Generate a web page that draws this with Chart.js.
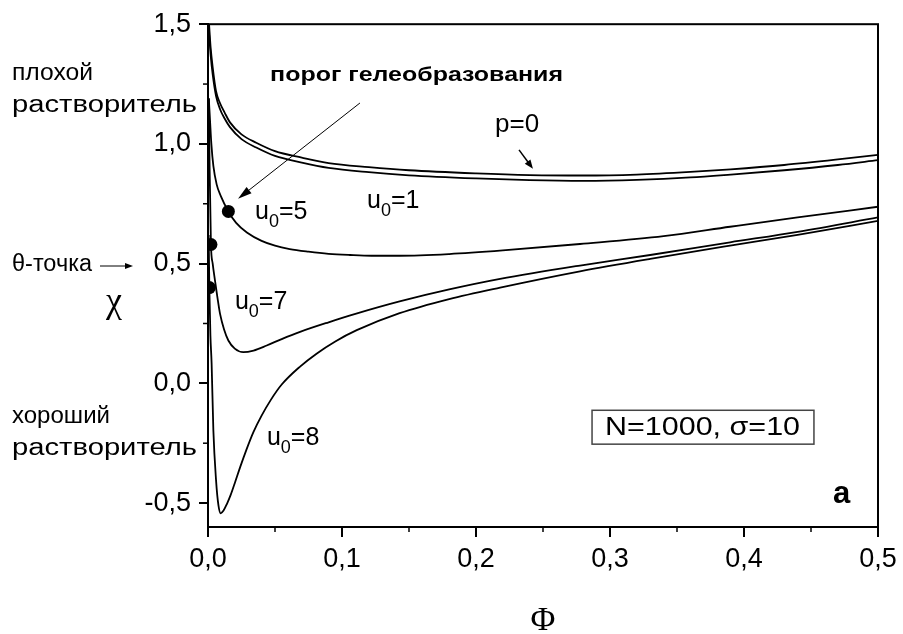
<!DOCTYPE html>
<html>
<head>
<meta charset="utf-8">
<script src="https://cdn.jsdelivr.net/npm/chart.js@4.4.0/dist/chart.umd.min.js"></script>
<style>
  html, body { margin: 0; padding: 0; background: #fff; }
  #wrap { width: 903px; height: 634px; }
</style>
</head>
<body>
<div id="wrap"><canvas id="chart" width="903" height="634"></canvas></div>
<script>
// axis ticks
const xTicks = [0, 0.1, 0.2, 0.3, 0.4, 0.5];
const xMinorTicks = [0.05, 0.15, 0.25, 0.35, 0.45];
const yTicks = [-0.5, 0, 0.5, 1.0, 1.5];
const yMinorTicks = [-0.25, 0.25, 0.75, 1.25];

// p=0
const phiP0 = [0.0008, 0.002, 0.0035, 0.006, 0.009, 0.0125, 0.0164, 0.025, 0.036, 0.05, 0.07, 0.09, 0.12, 0.15, 0.2, 0.24, 0.28, 0.32, 0.36, 0.39, 0.43, 0.47, 0.5];
const chiP0 = [1.5, 1.40, 1.32, 1.22, 1.17, 1.13, 1.09, 1.04, 1.005, 0.97, 0.943, 0.92, 0.903, 0.89, 0.877, 0.870, 0.868, 0.872, 0.883, 0.894, 0.912, 0.935, 0.954];

// u0=1
const phiU1 = [0.0008, 0.002, 0.0035, 0.006, 0.009, 0.0125, 0.0164, 0.025, 0.036, 0.05, 0.07, 0.09, 0.12, 0.15, 0.2, 0.24, 0.28, 0.32, 0.36, 0.39, 0.43, 0.47, 0.5];
const chiU1 = [1.46, 1.37, 1.29, 1.20, 1.145, 1.105, 1.07, 1.02, 0.985, 0.95, 0.922, 0.90, 0.882, 0.869, 0.856, 0.849, 0.846, 0.85, 0.86, 0.872, 0.89, 0.912, 0.932];

// u0=5
const phiU5 = [0.0006, 0.0015, 0.0025, 0.004, 0.0065, 0.0095, 0.0152, 0.021, 0.029, 0.04, 0.05, 0.061, 0.075, 0.09, 0.106, 0.122, 0.143, 0.18, 0.22, 0.2776, 0.34, 0.3896, 0.44, 0.5];
const chiU5 = [1.19, 1.10, 1.0, 0.908, 0.83, 0.783, 0.718, 0.67, 0.63, 0.595, 0.575, 0.561, 0.55, 0.541, 0.536, 0.533, 0.533, 0.54, 0.555, 0.582, 0.615, 0.654, 0.693, 0.7375];

// u0=7
const phiU7 = [0.0006, 0.0012, 0.0022, 0.0035, 0.0052, 0.007, 0.009, 0.012, 0.0152, 0.02, 0.0264, 0.034, 0.0438, 0.055, 0.0687, 0.09, 0.11, 0.143, 0.18, 0.218, 0.2776, 0.33, 0.3896, 0.44, 0.5];
const chiU7 = [1.19, 0.90, 0.58, 0.50, 0.43, 0.36, 0.29, 0.225, 0.179, 0.145, 0.13, 0.137, 0.158, 0.185, 0.215, 0.255, 0.29, 0.342, 0.392, 0.436, 0.492, 0.536, 0.589, 0.633, 0.693];

// u0=8
const phiU8 = [0.0005, 0.001, 0.0018, 0.0027, 0.004, 0.006, 0.0078, 0.0095, 0.0115, 0.014, 0.017, 0.0201, 0.024, 0.0285, 0.0338, 0.04, 0.047, 0.055, 0.0687, 0.081, 0.095, 0.111, 0.143, 0.18, 0.218, 0.2776, 0.33, 0.3896, 0.44, 0.5];
const chiU8 = [0.62, 0.40, 0.2, 0.083, -0.196, -0.404, -0.51, -0.543, -0.532, -0.505, -0.465, -0.415, -0.35, -0.28, -0.205, -0.135, -0.068, -0.005, 0.07, 0.124, 0.175, 0.222, 0.293, 0.352, 0.40, 0.468, 0.52, 0.575, 0.62, 0.679];

// gelation threshold points (u0=5, u0=7, u0=8)
const dotPhi = [0.0152, 0.0022, 0.001];
const dotChi = [0.718, 0.58, 0.40];

const SANS = '"Liberation Sans", Arial, Helvetica, sans-serif';
const SERIF = '"Liberation Serif", "Times New Roman", serif';

function pts(xs, ys) {
    return xs.map((x, i) => ({ x: x, y: ys[i] }));
}

function curve(label, xs, ys) {
    return {
        label: label,
        data: pts(xs, ys),
        showLine: true,
        borderColor: '#000',
        borderWidth: 1.8,
        pointRadius: 0,
        cubicInterpolationMode: 'monotone',
        fill: false
    };
}

function arrow(ctx, x1, y1, x2, y2, headLen, headW, lw) {
    const a = Math.atan2(y2 - y1, x2 - x1);
    ctx.lineWidth = lw;
    ctx.beginPath();
    ctx.moveTo(x1, y1);
    ctx.lineTo(x2 - Math.cos(a) * headLen * 0.8, y2 - Math.sin(a) * headLen * 0.8);
    ctx.stroke();
    ctx.beginPath();
    ctx.moveTo(x2, y2);
    ctx.lineTo(x2 - Math.cos(a) * headLen + Math.sin(a) * headW, y2 - Math.sin(a) * headLen - Math.cos(a) * headW);
    ctx.lineTo(x2 - Math.cos(a) * headLen - Math.sin(a) * headW, y2 - Math.sin(a) * headLen + Math.cos(a) * headW);
    ctx.closePath();
    ctx.fill();
}

// text stretched horizontally to the width it has in the picture
function fitText(ctx, text, x, y, width) {
    const sx = width / ctx.measureText(text).width;
    ctx.save();
    ctx.translate(x, y);
    ctx.scale(sx, 1);
    ctx.fillText(text, 0, 0);
    ctx.restore();
}

function subLabel(ctx, x, y, sub, rest) {
    ctx.font = `25px ${SANS}`;
    ctx.fillText('u', x, y);
    let w = ctx.measureText('u').width;
    ctx.font = `18px ${SANS}`;
    ctx.fillText(sub, x + w, y + 8);
    w += ctx.measureText(sub).width;
    ctx.font = `25px ${SANS}`;
    ctx.fillText(rest, x + w, y);
}

const decor = {
    id: 'decor',
    afterDraw(chart) {
        const ctx = chart.ctx;
        const a = chart.chartArea;
        const xs = chart.scales.x;
        const ys = chart.scales.y;
        const px = v => xs.getPixelForValue(v);
        const py = v => ys.getPixelForValue(v);

        ctx.save();
        ctx.strokeStyle = '#000';
        ctx.fillStyle = '#000';

        // frame
        ctx.lineWidth = 2;
        ctx.strokeRect(a.left, a.top, a.right - a.left, a.bottom - a.top);

        // minor ticks
        ctx.lineWidth = 1.5;
        xMinorTicks.forEach(v => {
            ctx.beginPath();
            ctx.moveTo(px(v), a.bottom);
            ctx.lineTo(px(v), a.bottom + 5);
            ctx.stroke();
        });
        yMinorTicks.forEach(v => {
            ctx.beginPath();
            ctx.moveTo(a.left, py(v));
            ctx.lineTo(a.left - 5, py(v));
            ctx.stroke();
        });

        // axis titles
        ctx.textAlign = 'center';
        ctx.textBaseline = 'alphabetic';
        ctx.font = `34px ${SERIF}`;
        ctx.fillText('Φ', (a.left + a.right) / 2, 630);
        ctx.font = `36px ${SERIF}`;
        ctx.fillText('χ', 114, 312);

        // left side notes
        ctx.textAlign = 'left';
        ctx.font = `23px ${SANS}`;
        fitText(ctx, 'плохой', 12, 80, 81);
        fitText(ctx, 'растворитель', 12, 112, 185);
        fitText(ctx, 'θ-точка', 12, 271, 80);
        fitText(ctx, 'хороший', 12, 423, 98);
        fitText(ctx, 'растворитель', 12, 455, 185);
        arrow(ctx, 100, 266, 133, 266, 8, 3, 1);

        // gelation threshold
        ctx.font = `bold 21px ${SANS}`;
        fitText(ctx, 'порог гелеобразования', px(0.0463), py(1.2625), 293);
        arrow(ctx, px(0.1134), py(1.171), px(0.0224), py(0.771), 14, 4, 1);

        // p=0
        ctx.font = `26px ${SANS}`;
        ctx.fillText('p=0', px(0.2142), py(1.05));
        arrow(ctx, px(0.2321), py(0.975), px(0.2425), py(0.896), 9, 3.5, 1.5);

        // curve labels
        subLabel(ctx, px(0.1187), py(0.733), '0', '=1');
        subLabel(ctx, px(0.0351), py(0.6875), '0', '=5');
        subLabel(ctx, px(0.0201), py(0.3125), '0', '=7');
        subLabel(ctx, px(0.044), py(-0.258), '0', '=8');

        // parameter box
        const bx1 = px(0.2866), bx2 = px(0.4522), by1 = py(-0.1125), by2 = py(-0.254);
        ctx.strokeStyle = '#444';
        ctx.lineWidth = 1.5;
        ctx.strokeRect(bx1, by1, bx2 - bx1, by2 - by1);
        ctx.textBaseline = 'middle';
        ctx.font = `25px ${SANS}`;
        fitText(ctx, 'N=1000, σ=10', bx1 + 13, (by1 + by2) / 2 + 1, 195);

        // panel letter
        ctx.textBaseline = 'alphabetic';
        ctx.font = `bold 31px ${SANS}`;
        ctx.fillText('a', px(0.4664), py(-0.5));

        ctx.restore();
    }
};

const tickFmt = v => (v < 0 ? '-' : '') + Math.abs(v).toFixed(1).replace('.', ',');

new Chart(document.getElementById('chart').getContext('2d'), {
    type: 'scatter',
    data: {
        datasets: [
            curve('p=0', phiP0, chiP0),
            curve('u0=1', phiU1, chiU1),
            curve('u0=5', phiU5, chiU5),
            curve('u0=7', phiU7, chiU7),
            curve('u0=8', phiU8, chiU8),
            {
                label: 'порог гелеобразования',
                data: pts(dotPhi, dotChi),
                showLine: false,
                pointRadius: 6.5,
                pointBackgroundColor: '#000',
                pointBorderColor: '#000',
                pointBorderWidth: 0
            }
        ]
    },
    options: {
        responsive: false,
        animation: false,
        devicePixelRatio: 1,
        layout: { padding: { top: 23, right: 25, left: 0, bottom: 0 } },
        plugins: {
            legend: { display: false },
            tooltip: { enabled: false }
        },
        scales: {
            x: {
                type: 'linear',
                min: 0,
                max: 0.5,
                afterBuildTicks: s => { s.ticks = xTicks.map(v => ({ value: v })); },
                afterFit: s => { s.height = 107; },
                border: { display: true, color: '#000', width: 2 },
                grid: { drawOnChartArea: false, drawTicks: true, tickLength: 10, color: '#000', lineWidth: 2 },
                ticks: {
                    color: '#000',
                    padding: 6,
                    maxRotation: 0,
                    autoSkip: false,
                    font: { family: SANS, size: 27 },
                    callback: tickFmt
                }
            },
            y: {
                type: 'linear',
                min: -0.6,
                max: 1.5,
                afterBuildTicks: s => { s.ticks = yTicks.map(v => ({ value: v })); },
                afterFit: s => { s.width = 208; },
                border: { display: true, color: '#000', width: 2 },
                grid: { drawOnChartArea: false, drawTicks: true, tickLength: 9, color: '#000', lineWidth: 2 },
                ticks: {
                    color: '#000',
                    padding: 8,
                    autoSkip: false,
                    font: { family: SANS, size: 27 },
                    callback: tickFmt
                }
            }
        }
    },
    plugins: [decor]
});
</script>
</body>
</html>
